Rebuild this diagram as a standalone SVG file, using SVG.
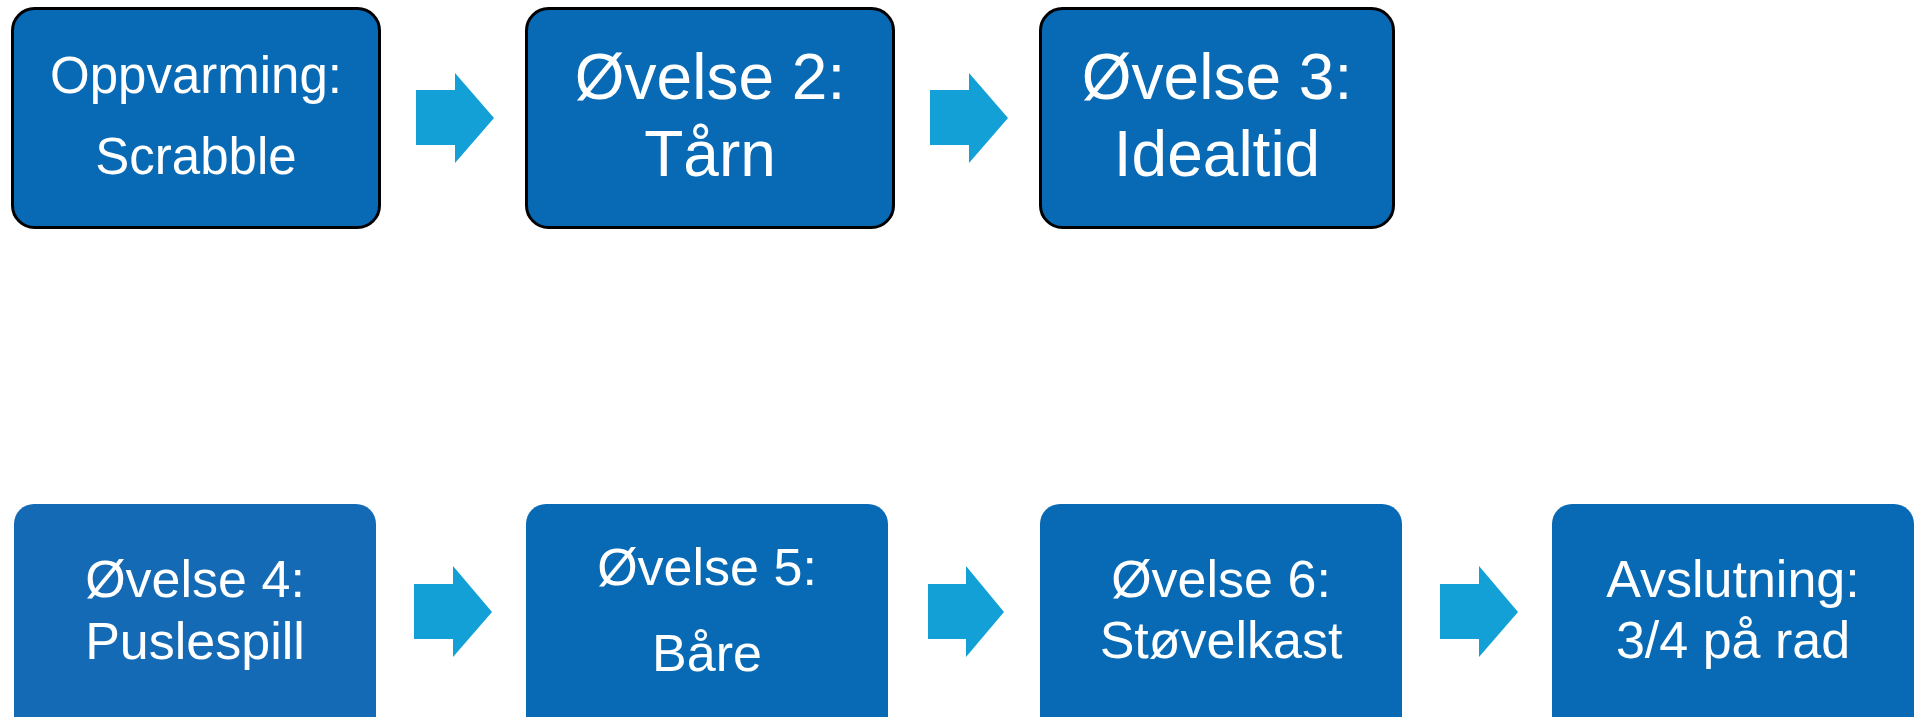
<svg xmlns="http://www.w3.org/2000/svg" width="1921" height="717" viewBox="0 0 1921 717">
<style>
.box{fill:#086AB5}
.bord{stroke:#000;stroke-width:3}
.arr{fill:#12A0D7}
text{font-family:"Liberation Sans",Arial,sans-serif;fill:#fff;text-anchor:middle}
.s{font-size:51px}
.l{font-size:64px}
.m{font-size:52px}
</style>
<rect width="1921" height="717" fill="#fff"/>
<g id="connectors">
<polygon class="arr" points="416,90 455,90 455,73 494,118 455,163 455,145 416,145"/>
<polygon class="arr" points="930,90 969,90 969,73 1008,118 969,163 969,145 930,145"/>
<polygon class="arr" points="414,584 453,584 453,566 492,612 453,657 453,639 414,639"/>
<polygon class="arr" points="928,584 966,584 966,566 1004,612 966,657 966,639 928,639"/>
<polygon class="arr" points="1440,584 1479,584 1479,566 1518,612 1479,657 1479,639 1440,639"/>
</g>
<g id="n1">
<rect class="box bord" x="12.5" y="8.5" width="367" height="219" rx="22"/>
<text class="s" x="196" y="93">Oppvarming:</text>
<text class="s" x="196" y="174">Scrabble</text>
</g>
<g id="n2">
<rect class="box bord" x="526.5" y="8.5" width="367" height="219" rx="22"/>
<text class="l" x="710" y="99">Øvelse 2:</text>
<text class="l" x="710" y="176">Tårn</text>
</g>
<g id="n3">
<rect class="box bord" x="1040.5" y="8.5" width="353" height="219" rx="22"/>
<text class="l" x="1217" y="99">Øvelse 3:</text>
<text class="l" x="1217" y="176">Idealtid</text>
</g>
<g id="n4">
<rect x="14" y="504" width="362" height="240" rx="20" fill="#156AB6"/>
<text class="m" x="195" y="597">Øvelse 4:</text>
<text class="m" x="195" y="659">Puslespill</text>
</g>
<g id="n5">
<rect class="box" x="526" y="504" width="362" height="240" rx="20"/>
<text class="m" x="707" y="585">Øvelse 5:</text>
<text class="m" x="707" y="671">Båre</text>
</g>
<g id="n6">
<rect class="box" x="1040" y="504" width="362" height="240" rx="20"/>
<text class="m" x="1221" y="597">Øvelse 6:</text>
<text class="m" x="1221" y="658">Støvelkast</text>
</g>
<g id="n7">
<rect class="box" x="1552" y="504" width="362" height="240" rx="20"/>
<text class="m" x="1733" y="597">Avslutning:</text>
<text class="m" x="1733" y="658">3/4 på rad</text>
</g>
</svg>
